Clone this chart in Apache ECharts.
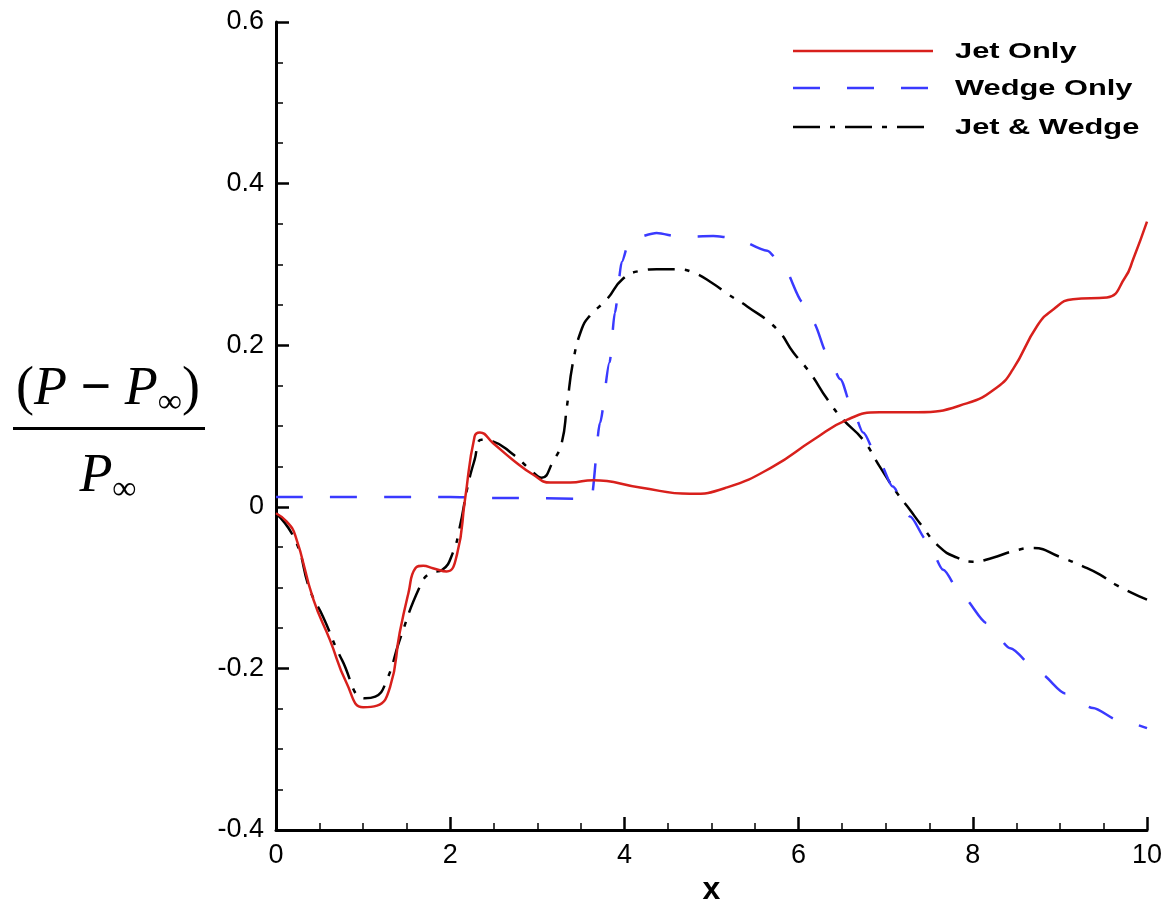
<!DOCTYPE html>
<html>
<head>
<meta charset="utf-8">
<script src="https://cdn.jsdelivr.net/npm/echarts@6/dist/echarts.min.js"></script>
<style>
html,body{margin:0;padding:0;background:#fff;}
#chart{width:1168px;height:900px;}
</style>
</head>
<body>
<div id="chart"></div>
<script>
// ---- data ----
const seriesNames = ['Jet Only', 'Wedge Only', 'Jet & Wedge'];
const xTicks = [0, 2, 4, 6, 8, 10];
const yTicks = [-0.4, -0.2, 0, 0.2, 0.4, 0.6];

const jetX = [0, 0.12, 0.22, 0.43, 0.62, 0.81, 1.0, 1.16, 1.31, 1.42, 1.52, 1.60, 1.69, 1.80, 1.96, 2.08, 2.17, 2.28, 2.34, 2.49, 2.72, 2.95, 3.15, 3.38, 3.64, 4.18, 4.75, 5.18, 5.71, 6.17, 6.56, 6.93, 7.36, 7.93, 8.28, 8.46, 8.74, 8.92, 9.15, 9.54, 9.75, 9.84, 10.0];
const jetY = [-0.008, -0.018, -0.035, -0.115, -0.165, -0.218, -0.248, -0.246, -0.223, -0.156, -0.107, -0.076, -0.073, -0.076, -0.080, -0.058, 0.009, 0.087, 0.092, 0.079, 0.058, 0.04, 0.030, 0.030, 0.033, 0.024, 0.016, 0.024, 0.050, 0.083, 0.108, 0.117, 0.117, 0.128, 0.148, 0.170, 0.224, 0.244, 0.257, 0.259, 0.284, 0.306, 0.353];

const wedgeX = [0, 2.0, 2.5, 3.62, 3.72, 3.83, 3.89, 3.97, 4.06, 4.37, 4.64, 5.02, 5.25, 5.64, 5.82, 6.05, 6.17, 6.33, 6.48, 6.62, 6.74, 6.93, 7.08, 7.28, 7.47, 7.66, 7.88, 8.16, 8.43, 8.77, 9.06, 9.38, 9.67, 10];
const wedgeY = [0.012, 0.012, 0.011, 0.010, 0.104, 0.179, 0.24, 0.303, 0.331, 0.339, 0.334, 0.335, 0.333, 0.317, 0.298, 0.253, 0.228, 0.189, 0.158, 0.12, 0.092, 0.055, 0.025, -0.012, -0.041, -0.078, -0.111, -0.144, -0.175, -0.206, -0.231, -0.249, -0.264, -0.274];

const bothX = [0, 0.22, 0.39, 0.54, 0.76, 1.02, 1.14, 1.27, 1.42, 1.65, 1.77, 1.91, 2.03, 2.11, 2.20, 2.28, 2.36, 2.49, 2.72, 2.92, 3.05, 3.18, 3.28, 3.34, 3.41, 3.51, 3.60, 3.80, 3.98, 4.18, 4.37, 4.60, 4.79, 5.02, 5.19, 5.41, 5.75, 5.94, 6.13, 6.33, 6.51, 6.74, 6.93, 7.13, 7.28, 7.39, 7.62, 7.82, 8.0, 8.23, 8.46, 8.69, 9.0, 9.27, 9.46, 9.65, 10];
const bothY = [-0.008, -0.041, -0.103, -0.136, -0.19, -0.237, -0.235, -0.215, -0.165, -0.099, -0.082, -0.078, -0.057, -0.025, 0.025, 0.058, 0.083, 0.081, 0.065, 0.046, 0.036, 0.056, 0.079, 0.124, 0.179, 0.22, 0.236, 0.257, 0.282, 0.292, 0.294, 0.294, 0.29, 0.276, 0.263, 0.248, 0.22, 0.191, 0.166, 0.133, 0.108, 0.083, 0.05, 0.017, -0.004, -0.02, -0.05, -0.063, -0.068, -0.063, -0.055, -0.051, -0.062, -0.074, -0.084, -0.097, -0.115];

// ---- styles ----
const colors = ['#d8201c', '#3a3aff', '#000000'];
const dashes = ['solid', [27, 27], [27, 10, 5, 10]];

function pairs(xs, ys) { return xs.map((x, i) => [x, ys[i]]); }
const dataSets = [pairs(jetX, jetY), pairs(wedgeX, wedgeY), pairs(bothX, bothY)];

const chart = echarts.init(document.getElementById('chart'), null, {renderer: 'canvas'});
const tickFont = {fontFamily: '"Liberation Sans", Arial, sans-serif', fontSize: 27, color: '#000'};

const legendLeft = 793, legendRight = 933, legendTextX = 955;
const legendRows = [51, 88, 127];
const legendGraphics = [];
seriesNames.forEach((name, i) => {
  legendGraphics.push({
    type: 'line',
    shape: {x1: legendLeft, y1: legendRows[i], x2: legendRight, y2: legendRows[i]},
    style: {stroke: colors[i], lineWidth: 2.5, lineDash: dashes[i] === 'solid' ? null : dashes[i]},
    silent: true
  });
  legendGraphics.push({
    type: 'text',
    x: legendTextX, y: legendRows[i] + 1,
    scaleX: 1.4,
    style: {text: name, x: 0, y: 0, verticalAlign: 'middle', align: 'left',
      fontFamily: '"Liberation Sans", Arial, sans-serif', fontWeight: 'bold', fontSize: 22, fill: '#000'},
    silent: true
  });
});

const serif = '"Liberation Serif", "Times New Roman", serif';
const titleGraphics = [
  {
    type: 'text', x: 108, y: 390,
    style: {
      text: '{p|(}{i|P}{m| − }{i|P}{s|∞}{p|)}',
      align: 'center', verticalAlign: 'middle',
      rich: {
        p: {fontFamily: serif, fontSize: 54, fill: '#000', lineHeight: 60},
        i: {fontFamily: serif, fontSize: 54, fontStyle: 'italic', fill: '#000', lineHeight: 60},
        m: {fontFamily: serif, fontSize: 54, fill: '#000', fontWeight: 'bold', lineHeight: 60},
        s: {fontFamily: serif, fontSize: 34, fill: '#000', verticalAlign: 'bottom', lineHeight: 60}
      }
    }
  },
  {type: 'rect', shape: {x: 13, y: 427, width: 192, height: 3}, style: {fill: '#000'}},
  {
    type: 'text', x: 108, y: 477,
    style: {
      text: '{i|P}{s|∞}',
      align: 'center', verticalAlign: 'middle',
      rich: {
        i: {fontFamily: serif, fontSize: 54, fontStyle: 'italic', fill: '#000', lineHeight: 60},
        s: {fontFamily: serif, fontSize: 34, fill: '#000', verticalAlign: 'bottom', lineHeight: 60}
      }
    }
  }
];

const axisCommon = {
  axisLine: {show: true, onZero: false, lineStyle: {color: '#000', width: 3}},
  axisTick: {show: true, inside: true, length: 13, lineStyle: {color: '#000', width: 2.5}},
  minorTick: {show: true, splitNumber: 4, length: 7, lineStyle: {color: '#000', width: 1.5}},
  splitLine: {show: false},
  minorSplitLine: {show: false}
};

chart.setOption({
  animation: false,
  backgroundColor: '#fff',
  grid: {left: 276, right: 21, top: 22, bottom: 70, containLabel: false, outerBoundsMode: 'none'},
  xAxis: Object.assign({
    type: 'value', min: xTicks[0], max: xTicks[xTicks.length - 1], interval: xTicks[1] - xTicks[0],
    name: 'x', nameLocation: 'middle', nameGap: 43,
    nameTextStyle: {fontFamily: '"Liberation Sans", Arial, sans-serif', fontWeight: 'bold', fontSize: 32, color: '#000'},
    axisLabel: Object.assign({margin: 12}, tickFont)
  }, axisCommon),
  yAxis: Object.assign({
    type: 'value', min: yTicks[0], max: yTicks[yTicks.length - 1], interval: 0.2,
    axisLabel: Object.assign({margin: 12, formatter: v => String(Math.round(v * 10) / 10)}, tickFont)
  }, axisCommon),
  series: seriesNames.map((name, i) => ({
    name: name,
    type: 'line',
    data: dataSets[i],
    showSymbol: false,
    symbol: 'none',
    smooth: i === 1 ? 0.25 : 0.5,
    smoothMonotone: i === 1 ? 'x' : undefined,
    lineStyle: {color: colors[i], width: 2.5, type: dashes[i]},
    z: 3 - i
  })),
  graphic: legendGraphics.concat(titleGraphics)
});
</script>
</body>
</html>
